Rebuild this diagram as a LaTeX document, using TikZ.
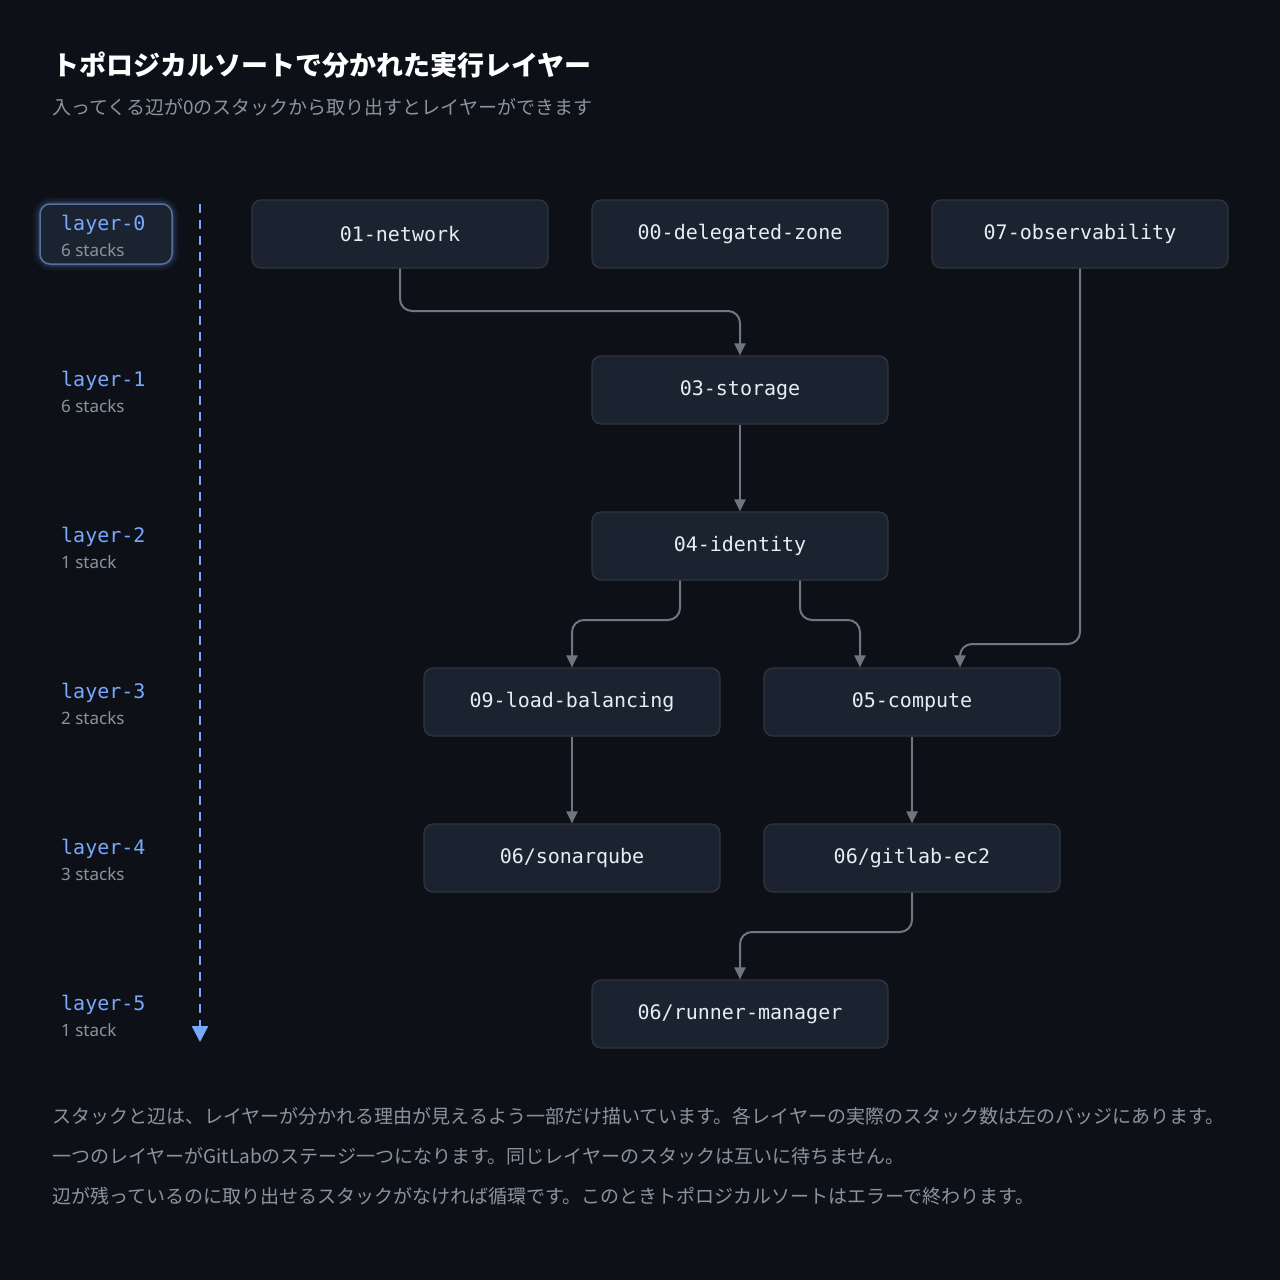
\documentclass[tikz,border=0pt]{standalone}
\usepackage{fontspec}
\setmainfont{Noto Sans}
\newfontfamily\cjk{Noto Sans CJK JP}
\newfontfamily\mono{DejaVu Sans Mono}
\usetikzlibrary{arrows.meta}
\definecolor{bg}{HTML}{0D1117}
\definecolor{boxfill}{HTML}{1C2330}
\definecolor{boxline}{HTML}{30363D}
\definecolor{txt}{HTML}{E6EDF3}
\definecolor{mut}{HTML}{8B949E}
\definecolor{edge}{HTML}{6E7681}
\definecolor{blu}{HTML}{79A8FF}
\begin{document}
\begin{tikzpicture}[x=1pt,y=-1pt,
  stack/.style={draw=boxline,line width=1.2pt,fill=boxfill,rounded corners=9pt,minimum width=296pt,minimum height=68pt,inner sep=0pt,text=txt,font=\mono\fontsize{20}{24}\selectfont},
  conn/.style={draw=edge,line width=2pt,rounded corners=12pt,-{Triangle[length=12pt,width=11pt]}},
  lay/.style={anchor=west,text=blu,font=\mono\fontsize{20}{24}\selectfont,inner sep=0pt},
  cnt/.style={anchor=west,text=mut,font=\fontsize{17}{20}\selectfont,inner sep=0pt},
  foot/.style={anchor=west,text=mut,inner sep=0pt,font=\cjk\fontsize{19}{22}\selectfont}]
\fill[bg] (0,0) rectangle (1280,1280);
\useasboundingbox (0,0) rectangle (1280,1280);
\node[anchor=west,text=white,inner sep=0pt,font=\cjk\bfseries\fontsize{27}{30}\selectfont] (title) at (52,65) {トポロジカルソートで分かれた実行レイヤー};
\node[anchor=west,text=mut,inner sep=0pt,font=\cjk\fontsize{19}{22}\selectfont] (sub) at (52,107) {入ってくる辺が0のスタックから取り出すとレイヤーができます};
% badge glow
\foreach \w/\o in {14/0.04,10/0.06,6/0.09,3/0.12}
  \draw[blu,opacity=\o,line width=\w pt,rounded corners=12pt] (40,204) rectangle (172,264);
\draw[draw=blu!50!boxline,fill=boxfill,line width=1.5pt,rounded corners=10pt] (40,204) rectangle (172,264);
\node[lay] (l0) at (61,225) {layer-0}; \node[cnt] (c0) at (61,250) {6 stacks};
\node[lay] (l1) at (61,381) {layer-1}; \node[cnt] (c1) at (61,406) {6 stacks};
\node[lay] (l2) at (61,537) {layer-2}; \node[cnt] (c2) at (61,562) {1 stack};
\node[lay] (l3) at (61,693) {layer-3}; \node[cnt] (c3) at (61,718) {2 stacks};
\node[lay] (l4) at (61,849) {layer-4}; \node[cnt] (c4) at (61,874) {3 stacks};
\node[lay] (l5) at (61,1005) {layer-5}; \node[cnt] (c5) at (61,1030) {1 stack};
\coordinate (ta) at (200,204); \coordinate (tb) at (200,1042);
\draw[blu,line width=2.5pt,dash pattern=on 9pt off 7pt,-{Triangle[length=16pt,width=16pt]}] (ta) -- (tb);
\node[stack] (net) at (400,234) {01-network};
\node[stack] (dz) at (740,234) {00-delegated-zone};
\node[stack] (obs) at (1080,234) {07-observability};
\node[stack] (sto) at (740,390) {03-storage};
\node[stack] (idn) at (740,546) {04-identity};
\node[stack] (lb) at (572,702) {09-load-balancing};
\node[stack] (cmp) at (912,702) {05-compute};
\node[stack] (sq) at (572,858) {06/sonarqube};
\node[stack] (gl) at (912,858) {06/gitlab-ec2};
\node[stack] (rm) at (740,1014) {06/runner-manager};
\draw[conn] (net.south) -- (400,311) -- (740,311) -- (sto.north);
\draw[conn] (sto) -- (idn);
\draw[conn] ([xshift=-60pt]idn.south) -- (680,620) -- (572,620) -- (lb.north);
\draw[conn] ([xshift=60pt]idn.south) -- (800,620) -- (860,620) -- ([xshift=-52pt]cmp.north);
\draw[conn] (obs.south) -- (1080,644) -- (960,644) -- ([xshift=48pt]cmp.north);
\draw[conn] (lb) -- (sq);
\draw[conn] (cmp) -- (gl);
\draw[conn] (gl.south) -- (912,932) -- (740,932) -- (rm.north);
\node[foot] (f1) at (52,1116) {スタックと辺は、レイヤーが分かれる理由が見えるよう一部だけ描いています。各レイヤーの実際のスタック数は左のバッジにあります。};
\node[foot] (f2) at (52,1156) {一つのレイヤーがGitLabのステージ一つになります。同じレイヤーのスタックは互いに待ちません。};
\node[foot] (f3) at (52,1196) {辺が残っているのに取り出せるスタックがなければ循環です。このときトポロジカルソートはエラーで終わります。};
\end{tikzpicture}
\end{document}
